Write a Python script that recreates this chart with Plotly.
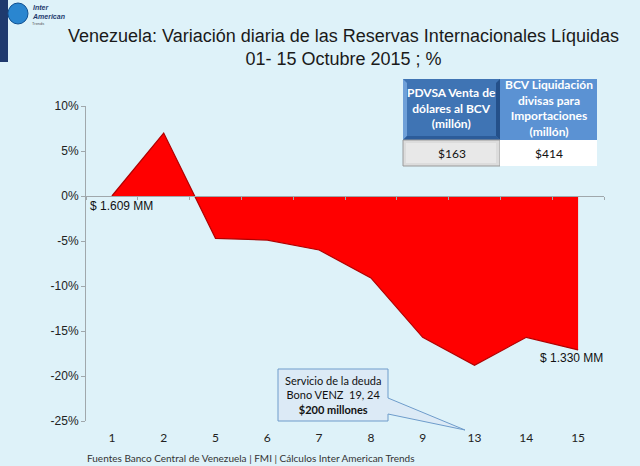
import plotly.graph_objects as go

# ---- data ----
categories = ["1", "2", "5", "6", "7", "8", "9", "13", "14", "15"]
variacion = [0.0, 7.0, -4.7, -4.9, -6.0, -9.1, -15.7, -18.8, -15.7, -17.1]
y_ticks = [10, 5, 0, -5, -10, -15, -20, -25]
y_ticklabels = ["10%", "5%", "0%", "-5%", "-10%", "-15%", "-20%", "-25%"]
tabla_headers = ["PDVSA Venta de<br>dólares al BCV<br>(millón)", "BCV Liquidación<br>divisas para<br>Importaciones<br>(millón)"]
tabla_values = ["$163", "$414"]
label_inicio = "$ 1.609 MM"
label_fin = "$ 1.330 MM"
callout_text = "Servicio de la deuda<br>Bono VENZ  19, 24<br><b>$200 millones</b>"
title_text = "Venezuela: Variación diaria de las Reservas Internacionales Líquidas<br>01- 15 Octubre 2015 ; %"
footer_text = "Fuentes Banco Central de Venezuela | FMI | Cálculos Inter American Trends"

W, H = 640, 466
L, R, T, B = 86, 604, 106, 421
BG = "#DEF2F9"

def px(x):
    return (x - L) / (R - L)

def py(y):
    return (B - y) / (B - T)

fig = go.Figure()
fig.add_trace(go.Scatter(
    x=categories, y=variacion, mode="lines", fill="tozeroy",
    fillcolor="#FF0000", line=dict(color="#B00000", width=1.2),
    hoverinfo="skip", showlegend=False,
))
# invisible trace to anchor second x axis (zero line with ticks)
fig.add_trace(go.Scatter(x=categories, y=[None]*len(categories), xaxis="x2",
                         mode="lines", showlegend=False, hoverinfo="skip"))

ymin, ymax = -25, 10
zero_pos = (0 - ymin) / (ymax - ymin)

shapes = []
annotations = []

# logo
shapes.append(dict(type="rect", xref="paper", yref="paper", x0=px(0), x1=px(8), y0=py(62), y1=py(0),
                   fillcolor="#1F3A6E", line=dict(width=0), layer="above"))
shapes.append(dict(type="circle", xref="paper", yref="paper", x0=px(8), x1=px(28), y0=py(24), y1=py(3),
                   fillcolor="#2A86D0", line=dict(color="#0F4F90", width=1), layer="above"))
annotations.append(dict(xref="paper", yref="paper", x=px(30), y=py(12), xanchor="left", yanchor="middle",
                        text="<b><i>Inter<br>American</i></b>", showarrow=False, align="left",
                        font=dict(family="Liberation Sans", size=7, color="#1F3A6E")))
annotations.append(dict(xref="paper", yref="paper", x=px(30), y=py(23), xanchor="left", yanchor="middle",
                        text="Trends", showarrow=False, font=dict(family="Liberation Sans", size=4, color="#555")))

# title
annotations.append(dict(xref="paper", yref="paper", x=px(343), y=py(48), xanchor="center", yanchor="middle",
                        text=title_text, showarrow=False, align="center",
                        font=dict(family="Liberation Sans", size=18, color="#1a1a1a")))

# table
hx = [403, 500, 597]
hy0, hy1, dy1 = 79, 140, 166
shapes.append(dict(type="rect", xref="paper", yref="paper", x0=px(hx[0]), x1=px(hx[1]), y0=py(hy1), y1=py(hy0),
                   fillcolor="#3F74B4", line=dict(width=0), layer="above"))
shapes.append(dict(type="path", xref="paper", yref="paper", layer="above",
                   path=f"M {px(hx[0])},{py(hy0)} L {px(hx[0]+4)},{py(hy0+4)} L {px(hx[0]+4)},{py(hy1-4)} L {px(hx[0])},{py(hy1)} Z",
                   fillcolor="#6FA0D8", line=dict(width=0)))
shapes.append(dict(type="path", xref="paper", yref="paper", layer="above",
                   path=f"M {px(hx[1])},{py(hy0)} L {px(hx[1]-4)},{py(hy0+4)} L {px(hx[1]-4)},{py(hy1-4)} L {px(hx[1])},{py(hy1)} Z",
                   fillcolor="#24508A", line=dict(width=0)))
shapes.append(dict(type="path", xref="paper", yref="paper", layer="above",
                   path=f"M {px(hx[0])},{py(hy1)} L {px(hx[0]+4)},{py(hy1-4)} L {px(hx[1]-4)},{py(hy1-4)} L {px(hx[1])},{py(hy1)} Z",
                   fillcolor="#2C5C9A", line=dict(width=0)))
shapes.append(dict(type="rect", xref="paper", yref="paper", x0=px(hx[1]), x1=px(hx[2]), y0=py(hy1), y1=py(hy0),
                   fillcolor="#5B92D3", line=dict(width=0), layer="above"))
shapes.append(dict(type="rect", xref="paper", yref="paper", x0=px(hx[0]), x1=px(hx[1]), y0=py(dy1), y1=py(hy1),
                   fillcolor="#DCDCDC", line=dict(color="#9A9A9A", width=1), layer="above"))
shapes.append(dict(type="rect", xref="paper", yref="paper", x0=px(hx[0]+3), x1=px(hx[1]-4), y0=py(dy1-3), y1=py(hy1+3),
                   fillcolor="#E8E8E8", line=dict(width=0), layer="above"))
shapes.append(dict(type="rect", xref="paper", yref="paper", x0=px(hx[1]), x1=px(hx[2]), y0=py(dy1), y1=py(hy1),
                   fillcolor="#FFFFFF", line=dict(width=0), layer="above"))
for i in range(2):
    cx = (hx[i] + hx[i+1]) / 2
    annotations.append(dict(xref="paper", yref="paper", x=px(cx), y=py((hy0 + hy1) / 2 - 1), xanchor="center",
                            yanchor="middle", text=f"<b>{tabla_headers[i]}</b>", showarrow=False, align="center",
                            font=dict(family="Lato", size=12, color="white")))
    annotations.append(dict(xref="paper", yref="paper", x=px(cx), y=py((hy1 + dy1) / 2), xanchor="center",
                            yanchor="middle", text=tabla_values[i], showarrow=False,
                            font=dict(family="Lato", size=12, color="#111")))

# callout
bx0, bx1, by0, by1 = 278, 388, 369, 421
tipx, tipy = 465, 430
shapes.append(dict(type="path", xref="paper", yref="paper", layer="above",
                   path=(f"M {px(bx0)},{py(by0)} L {px(bx1)},{py(by0)} L {px(bx1)},{py(398)} "
                         f"L {px(tipx)},{py(tipy)} L {px(bx1)},{py(414)} L {px(bx1)},{py(by1)} "
                         f"L {px(bx0)},{py(by1)} Z"),
                   fillcolor="#DCEAF6", line=dict(color="#6E9CCB", width=1)))
annotations.append(dict(xref="paper", yref="paper", x=px((bx0 + bx1) / 2), y=py((by0 + by1) / 2),
                        xanchor="center", yanchor="middle", text=callout_text, showarrow=False, align="center",
                        font=dict(family="Lato", size=11, color="#111")))

# value labels
annotations.append(dict(xref="paper", yref="paper", x=px(88), y=py(206), xanchor="left", yanchor="middle",
                        text=label_inicio, showarrow=False, font=dict(family="Liberation Sans", size=12, color="#111")))
annotations.append(dict(xref="paper", yref="paper", x=px(605), y=py(358), xanchor="right", yanchor="middle",
                        text=label_fin, showarrow=False, font=dict(family="Liberation Sans", size=12, color="#111")))

# footer
annotations.append(dict(xref="paper", yref="paper", x=px(85), y=py(458), xanchor="left", yanchor="middle",
                        text=footer_text, showarrow=False, font=dict(family="Lato", size=10, color="#333")))

fig.update_layout(
    width=W, height=H,
    margin=dict(l=L, r=W - R, t=T, b=H - B),
    paper_bgcolor=BG, plot_bgcolor=BG,
    shapes=shapes, annotations=annotations,
    xaxis=dict(type="category", range=[-0.5, len(categories) - 0.5], showgrid=False, showline=False,
               zeroline=False, ticks="", tickfont=dict(family="Lato", size=12, color="#222"),
               ticklabelstandoff=8),
    xaxis2=dict(type="category", overlaying="x", anchor="free", position=zero_pos, side="bottom",
                range=[-0.5, len(categories) - 0.5], showgrid=False, showline=True, linecolor="#A0A8AC",
                linewidth=1, ticks="outside", tickson="boundaries", ticklen=3, tickcolor="#A0A8AC",
                showticklabels=False, zeroline=False),
    yaxis=dict(range=[ymin, ymax], tickvals=y_ticks, ticktext=y_ticklabels, showgrid=False, zeroline=False,
               showline=True, linecolor="#A0A8AC", linewidth=1, ticks="outside", ticklen=4,
               tickcolor="#A0A8AC", tickfont=dict(family="Liberation Sans", size=12, color="#222")),
)

fig.write_html("out.html")
